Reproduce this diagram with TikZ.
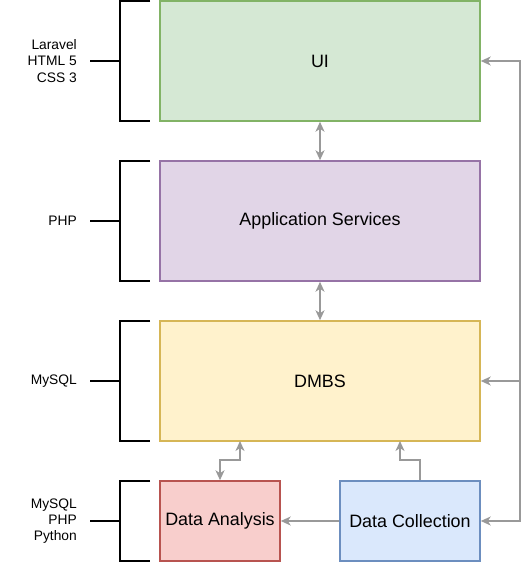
\documentclass[tikz,border=0pt]{standalone}
\usepackage{fontspec}
\setmainfont{Liberation Sans}
\usetikzlibrary{arrows.meta}
\definecolor{grayline}{HTML}{999999}
\definecolor{uifill}{HTML}{D5E8D4}\definecolor{uidraw}{HTML}{82B366}
\definecolor{appfill}{HTML}{E1D5E7}\definecolor{appdraw}{HTML}{9673A6}
\definecolor{dbfill}{HTML}{FFF2CC}\definecolor{dbdraw}{HTML}{D6B656}
\definecolor{dafill}{HTML}{F8CECC}\definecolor{dadraw}{HTML}{B85450}
\definecolor{dcfill}{HTML}{DAE8FC}\definecolor{dcdraw}{HTML}{6C8EBF}
\begin{document}
\begin{tikzpicture}[x=1pt,y=-1pt,
  box/.style={draw, line width=1.5pt, minimum height=120pt, inner sep=0pt, font=\fontsize{17.9}{20}\selectfont},
  bigbox/.style={box, minimum width=320pt},
  smallbox/.style={box, minimum height=80pt},
  conn/.style={draw=grayline, line width=1.8pt, -{Stealth[length=10pt,width=9pt,inset=3pt]}},
  dconn/.style={conn, {Stealth[length=10pt,width=9pt,inset=3pt]}-{Stealth[length=10pt,width=9pt,inset=3pt]}},
  brk/.style={draw=black, line width=1.6pt},
  lbl/.style={anchor=east, align=right, inner sep=0pt, font=\fontsize{13.8}{16.3}\selectfont}]
\useasboundingbox (0,0) rectangle (531,563);
\node[bigbox, fill=uifill, draw=uidraw] (ui) at (320,61) {UI};
\node[bigbox, fill=appfill, draw=appdraw] (app) at (320,221) {Application Services};
\node[bigbox, fill=dbfill, draw=dbdraw] (db) at (320,381) {DMBS};
\node[smallbox, minimum width=120pt, fill=dafill, draw=dadraw] (da) at (220,521) {Data Analysis};
\node[smallbox, minimum width=140pt, fill=dcfill, draw=dcdraw] (dc) at (410,521) {Data Collection};
% left brackets and labels
\foreach \yc/\h/\nm/\txt in {61/60/l1/{Laravel\\HTML 5\\CSS 3}, 221/60/l2/{PHP}, 381/60/l3/{MySQL}, 521/40/l4/{MySQL\\PHP\\Python}}{
  \draw[brk] (150,\yc-\h) -- (120,\yc-\h) -- (120,\yc+\h) -- (150,\yc+\h);
  \draw[brk] (90,\yc) -- (120,\yc);
  \node[lbl] (\nm) at (77,\yc) {\txt};
}
% connectors
\coordinate (dbl) at (240,441);
\coordinate (dbr) at (400,441);
\coordinate (rtop) at (520,61);
\coordinate (rbot) at (520,521);
\coordinate (rmid) at (520,381);
\draw[dconn] (ui.south) -- (app.north);
\draw[dconn] (app.south) -- (db.north);
\draw[dconn] (da.north) -- ++(0,-20) -| (dbl);
\draw[conn] ([xshift=10pt]dc.north) -- ++(0,-20) -| (dbr);
\draw[conn] (dc.west) -- (da.east);
\draw[conn] (rbot) -- (rtop) -- (ui.east);
\draw[conn] (rmid) -- (db.east);
\draw[conn] (rtop) -- (rbot) -- (dc.east);
\end{tikzpicture}
\end{document}
